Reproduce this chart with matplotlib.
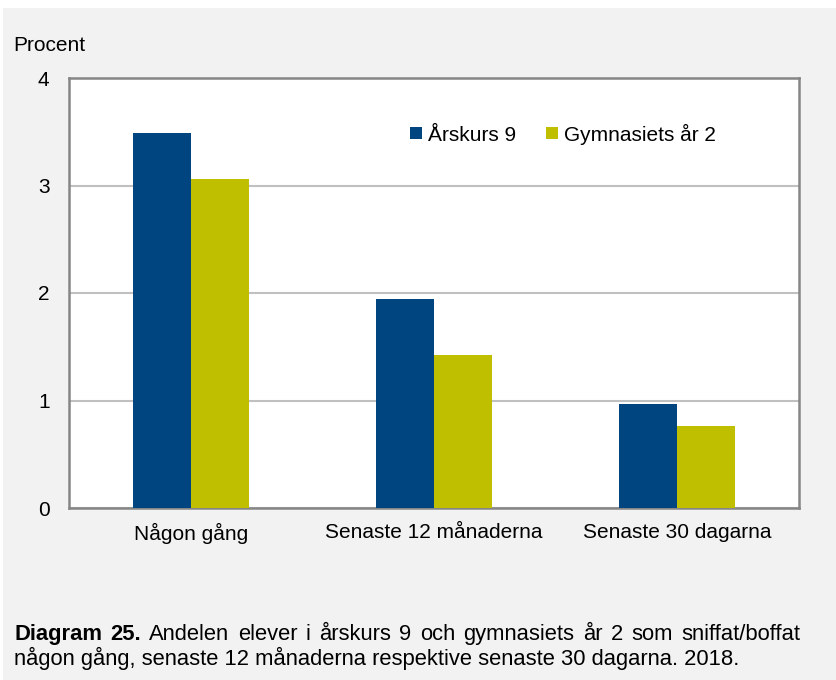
import matplotlib
matplotlib.use("Agg")
import matplotlib.pyplot as plt
import numpy as np
from matplotlib.patches import Rectangle

categories = ["Någon gång", "Senaste 12 månaderna", "Senaste 30 dagarna"]
series_names = ["Årskurs 9", "Gymnasiets år 2"]
arskurs9 = [3.49, 1.94, 0.97]
gymnasiet2 = [3.06, 1.42, 0.76]
yticks = [0, 1, 2, 3, 4]

colors = ["#00457f", "#bfbf00"]

plt.rcParams['font.family'] = ['Liberation Sans', 'DejaVu Sans']
FS = 15

fig = plt.figure(figsize=(8.36, 6.8), dpi=100)
fig.patch.set_facecolor("white")
fig.patches.append(Rectangle((3/836, 0), 1, 1 - 8/680, transform=fig.transFigure,
                             facecolor="#f2f2f2", edgecolor="none", zorder=-10))

ax = fig.add_axes([69/836, 1 - 508/680, (799 - 69)/836, (508 - 78)/680])
ax.set_facecolor("white")

x = np.arange(len(categories))
w = 0.238
ax.bar(x - w/2, arskurs9, w, color=colors[0], label=series_names[0], zorder=3)
ax.bar(x + w/2, gymnasiet2, w, color=colors[1], label=series_names[1], zorder=3)

ax.set_xlim(-0.5, len(categories) - 0.5)
ax.set_ylim(0, 4)
ax.set_yticks(yticks)
ax.set_yticklabels([str(t) for t in yticks], fontsize=FS)
ax.set_xticks(x)
ax.set_xticklabels(categories, fontsize=FS)
ax.tick_params(axis='y', length=0, pad=14)
ax.tick_params(axis='x', length=0, pad=11)
ax.yaxis.grid(True, color="#c0c0c0", linewidth=1.5, zorder=0)
ax.set_axisbelow(True)
for s in ax.spines.values():
    s.set_color("#868686")
    s.set_linewidth(1.8)

fig.text(13/836, 1 - 51/680, "Procent", fontsize=FS, va="baseline", ha="left")

leg = ax.legend(loc="center", bbox_to_anchor=((563 - 69)/730, 1 - (134 - 78)/430),
                ncol=2, frameon=False, fontsize=FS, handlelength=0.55, handleheight=0.55,
                handletextpad=0.3, columnspacing=1.45)

# Caption, first line justified between x=14 and x=800
CFS = 15.8
line1_words = [("Diagram", "bold"), ("25.", "bold"), ("Andelen", "normal"), ("elever", "normal"),
               ("i", "normal"), ("årskurs", "normal"), ("9", "normal"), ("och", "normal"),
               ("gymnasiets", "normal"), ("år", "normal"), ("2", "normal"), ("som", "normal"),
               ("sniffat/boffat", "normal")]
line2 = "någon gång, senaste 12 månaderna respektive senaste 30 dagarna. 2018."

renderer = fig.canvas.get_renderer()
texts = []
widths = []
for word, weight in line1_words:
    t = fig.text(0, 1 - 640/680, word, fontsize=CFS, fontweight=weight, va="baseline", ha="left")
    bb = t.get_window_extent(renderer=renderer)
    texts.append(t)
    widths.append(bb.width)
left_px, right_px = 14, 800
gap = (right_px - left_px - sum(widths)) / (len(widths) - 1)
xpos = left_px
for t, wd in zip(texts, widths):
    t.set_x(xpos / 836)
    xpos += wd + gap

fig.text(14/836, 1 - 665/680, line2, fontsize=CFS, va="baseline", ha="left")

fig.savefig("out.png", dpi=100, facecolor=fig.get_facecolor())
